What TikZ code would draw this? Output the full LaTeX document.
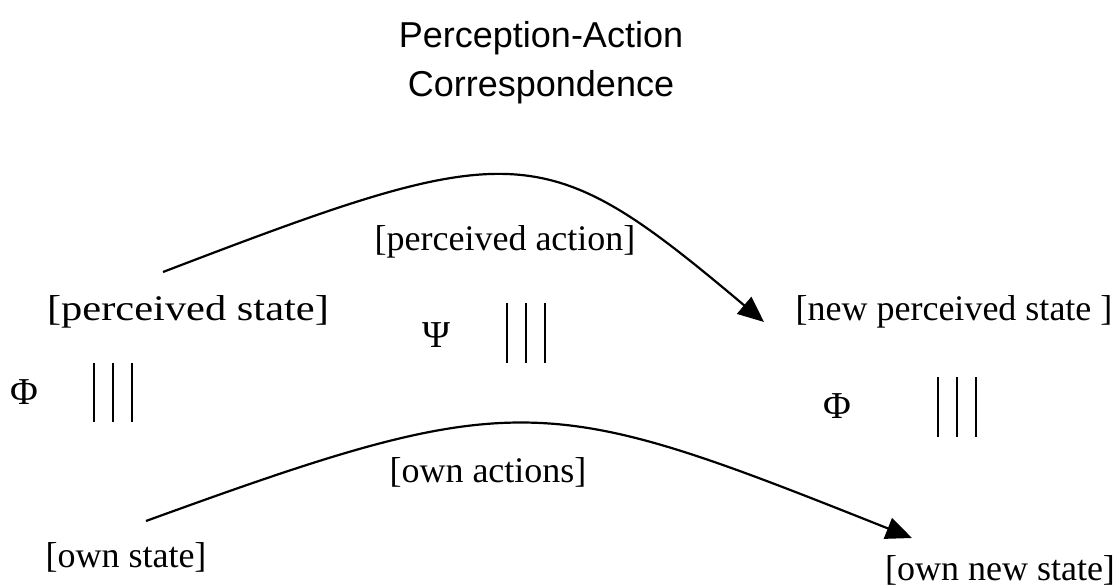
\documentclass[tikz,border=0pt]{standalone}
\usepackage{fontspec}
\setmainfont{Liberation Serif}
\setsansfont{Liberation Sans}
\usetikzlibrary{arrows.meta}
\tikzset{
    mapping/.style={-{Triangle[length=26pt,width=22pt]}, line width=2.2pt},
    equivbar/.style={line width=1.9pt},
    statelabel/.style={font=\fontsize{36}{40}\selectfont, inner sep=0pt, anchor=base},
    greek/.style={font=\fontsize{38}{40}\selectfont, inner sep=0pt, anchor=base},
    heading/.style={font=\sffamily\fontsize{36}{49}\selectfont, inner sep=0pt, anchor=base}
}

\begin{document}
\begin{tikzpicture}[x=1pt, y=-1pt]
    \useasboundingbox (0,0) rectangle (1119,587);
    \node[heading] (title1) at (541,47) {Perception-Action};
    \node[heading] (title2) at (541,96) {Correspondence};
    % perceived level
    \node[statelabel] (ps) at (188,320) {\scalebox{1.18}[1]{[perceived state]}};
    \node[statelabel] (pa) at (505,250) {[perceived action]};
    \node[statelabel] (nps) at (954,320) {[new perceived state ]};
    \coordinate (ps-out) at (163,272);
    \coordinate (nps-in) at (764,322);
    \draw[mapping] (ps-out) .. controls (518,136) and (543,136) .. (nps-in);
    % own level
    \node[statelabel] (os) at (126,567) {[own state]};
    \node[statelabel] (oa) at (488,482) {[own actions]};
    \node[statelabel] (ons) at (1000,580) {[own new state]};
    \coordinate (os-out) at (146,521);
    \coordinate (ons-in) at (912,538);
    \draw[mapping] (os-out) .. controls (520,385) and (545,392) .. (ons-in);
    % correspondences
    \node[greek] (phiL) at (24,404) {Φ};
    \node[greek] (psi) at (437,347) {Ψ};
    \node[greek] (phiR) at (837,418) {Φ};
    \foreach \x in {94,113,132} \draw[equivbar] (\x,363) -- (\x,422);
    \foreach \x in {507,526,545} \draw[equivbar] (\x,303) -- (\x,363);
    \foreach \x in {938,957,976} \draw[equivbar] (\x,377) -- (\x,437);
\end{tikzpicture}
\end{document}
